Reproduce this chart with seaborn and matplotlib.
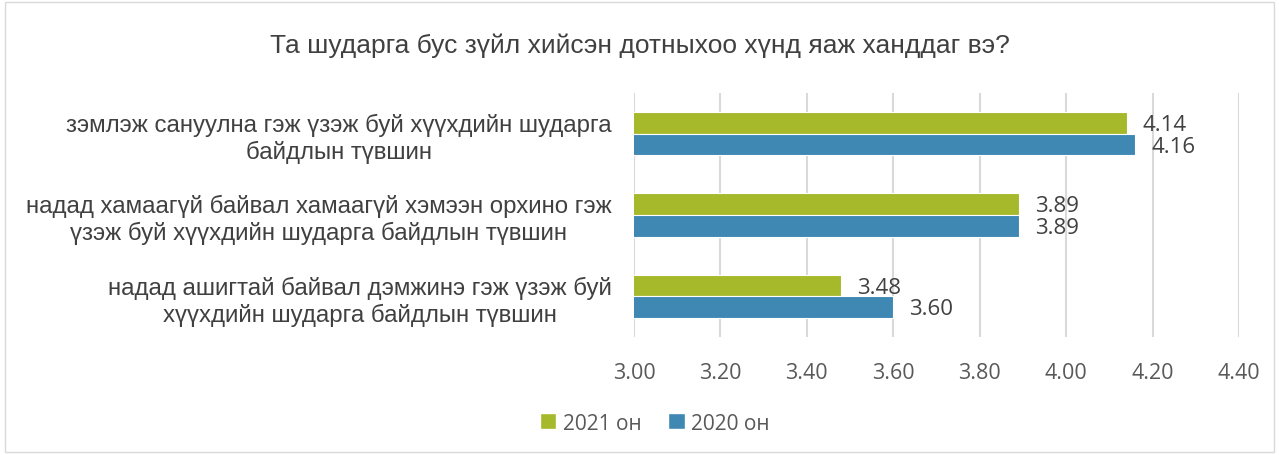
import pandas as pd
import matplotlib.pyplot as plt
import seaborn as sns
from matplotlib.patches import Rectangle, Patch

# data
categories = ["зэмлэж сануулна гэж үзэж буй хүүхдийн шударга\nбайдлын түвшин",
              "надад хамаагүй байвал хамаагүй хэмээн орхино гэж\nүзэж буй хүүхдийн шударга байдлын түвшин",
              "надад ашигтай байвал дэмжинэ гэж үзэж буй\nхүүхдийн шударга байдлын түвшин"]
vals_2021 = [4.14, 3.89, 3.48]
vals_2020 = [4.16, 3.89, 3.60]
series = ["2021 он", "2020 он"]
colors = ["#A6B92A", "#3F88B4"]

df = pd.DataFrame({
    "cat": categories * 2,
    "val": vals_2021 + vals_2020,
    "year": [series[0]] * 3 + [series[1]] * 3,
})

sns.set_style("white")
plt.rcParams['font.family'] = ['Liberation Sans', 'DejaVu Sans']

fig = plt.figure(figsize=(12.79, 4.56), dpi=100)
ax = fig.add_axes([0.4957, 0.2588, 0.473, 0.5351])

sns.barplot(data=df, y="cat", x="val", hue="year", hue_order=series,
            palette=colors, saturation=1, orient="h", width=0.53, ax=ax,
            edgecolor="white", linewidth=0.8, legend=False)

ax.set_xlim(3.0, 4.4)
ax.set_ylim(2.5, -0.5)
ax.set_xticks([3.0, 3.2, 3.4, 3.6, 3.8, 4.0, 4.2, 4.4])
ax.set_xticklabels(["%.2f" % t for t in ax.get_xticks()], family="Open Sans",
                   fontsize=15.5, color="#595959")
ax.tick_params(axis="x", length=0, pad=18)
ax.tick_params(axis="y", length=0, pad=16, labelsize=17.3, labelcolor="#404040")
plt.setp(ax.get_yticklabels(), multialignment="center")
ax.xaxis.grid(True, color="#D9D9D9", linewidth=1.5)
ax.set_axisbelow(True)
for s in ax.spines.values():
    s.set_visible(False)
ax.set_xlabel("")
ax.set_ylabel("")

# value labels
for cont in ax.containers:
    for bar in cont:
        w = bar.get_width()
        ax.text(w + 0.037, bar.get_y() + bar.get_height() / 2 + 0.02, "%.2f" % w,
                va="center", ha="left", fontsize=16, family="Open Sans",
                color="#404040")

fig.text(0.5, 0.9, "Та шударга бус зүйл хийсэн дотныхоо хүнд яаж ханддаг вэ?",
         ha="center", va="center", fontsize=19, color="#404040")

handles = [Patch(facecolor=c, label=l) for c, l in zip(colors, series)]
fig.legend(handles=handles, loc="center", bbox_to_anchor=(0.512, 0.07), ncol=2,
           frameon=False, handlelength=0.8, handleheight=0.8, handletextpad=0.3,
           columnspacing=1.3, prop={"family": "Open Sans", "size": 15},
           labelcolor="#595959")

fig.patches.append(Rectangle((0.004, 0.006), 0.992, 0.988, transform=fig.transFigure,
                             fill=False, edgecolor="#D9D9D9", linewidth=1))

plt.savefig("out.png", dpi=100)
